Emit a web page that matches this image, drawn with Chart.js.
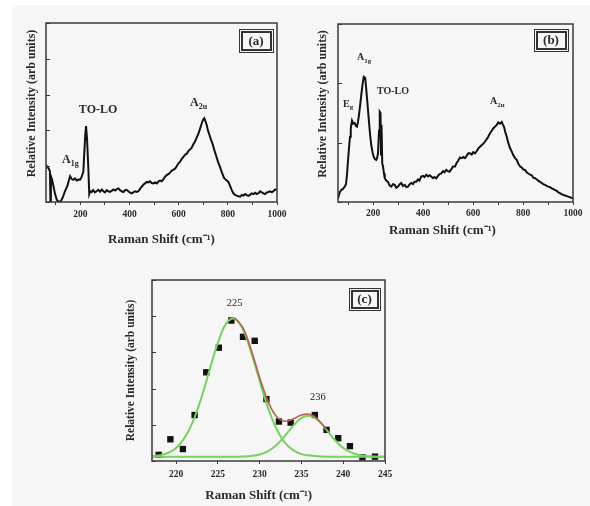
<!DOCTYPE html>
<html>
<head>
<meta charset="utf-8">
<script src="https://cdn.jsdelivr.net/npm/chart.js@4.4.1/dist/chart.umd.min.js"></script>
<style>
  body { margin: 0; width: 590px; height: 506px; background: #fff; overflow: hidden; position: relative; }
  #bg { position: absolute; left: 12px; top: 5px; right: 0; bottom: 0; background: #f6f6f6; }
  .box { position: absolute; }
</style>
</head>
<body>
<div id="bg"></div>
<div class="box" style="left:0;top:0;width:295px;height:252px"><canvas id="chartA"></canvas></div>
<div class="box" style="left:295px;top:0;width:295px;height:252px"><canvas id="chartB"></canvas></div>
<div class="box" style="left:120px;top:252px;width:290px;height:254px"><canvas id="chartC"></canvas></div>
<script>
// --- panel (a): Raman spectrum ---
const shiftA = [60,66,72,76,78,80,85,90,97,104,112,120,128,137,147,153,158,165,171,178,185,191,198,205,212,216,220,223,227,232,236,240,246,252,259,266,273,280,287,293,300,307,314,320,327,334,341,348,355,361,368,375,382,388,395,402,409,415,422,429,436,442,449,456,463,470,477,483,490,497,504,511,517,524,531,538,544,551,558,565,572,578,585,592,599,605,612,619,626,633,639,646,653,660,666,673,680,687,694,699,704,709,714,719,725,731,738,745,752,760,768,776,784,792,802,809,816,822,829,836,843,850,857,864,870,877,884,890,897,904,911,918,925,931,938,945,951,958,965,972,979,986,992,1000];
const intensityA = [1.03,0.98,0.92,0.86,0.03,0.72,0.62,0.45,0.22,0.06,0.0,0.02,0.12,0.3,0.45,0.6,0.72,0.64,0.62,0.66,0.6,0.63,0.62,0.7,0.85,1.4,1.9,2.12,1.75,1.0,0.22,0.3,0.28,0.33,0.27,0.3,0.34,0.29,0.35,0.3,0.27,0.33,0.3,0.28,0.31,0.35,0.32,0.36,0.38,0.33,0.3,0.28,0.33,0.34,0.3,0.26,0.24,0.27,0.3,0.28,0.3,0.36,0.42,0.48,0.52,0.56,0.55,0.58,0.53,0.52,0.55,0.52,0.57,0.6,0.58,0.64,0.7,0.75,0.78,0.82,0.88,0.9,0.93,1.0,1.08,1.12,1.2,1.26,1.32,1.35,1.42,1.47,1.52,1.62,1.68,1.8,1.9,2.05,2.2,2.3,2.34,2.25,2.15,2.0,1.88,1.75,1.62,1.45,1.3,1.12,0.98,0.82,0.68,0.62,0.56,0.45,0.33,0.25,0.2,0.18,0.16,0.15,0.2,0.18,0.22,0.19,0.17,0.2,0.24,0.22,0.26,0.22,0.25,0.3,0.27,0.24,0.22,0.26,0.28,0.3,0.27,0.31,0.35,0.34];

// --- panel (b): Raman spectrum ---
const shiftB = [60,66,72,80,87,92,96,100,104,108,111,116,121,127,132,136,140,144,149,153,158,163,169,173,176,180,184,188,193,198,203,208,213,217,220,224,227,230,232,234,237,240,244,247,253,260,266,273,280,287,293,300,307,313,320,327,333,340,347,353,360,366,373,380,386,393,400,406,413,420,426,433,440,446,453,460,466,473,480,486,493,500,506,513,520,528,535,541,548,555,561,568,575,581,588,595,601,608,615,621,628,635,641,648,655,661,668,675,681,688,695,701,708,715,720,724,729,735,741,748,755,761,768,775,781,788,795,801,808,815,821,828,835,841,848,855,861,868,875,881,888,895,901,908,915,921,928,935,941,948,955,961,968,975,981,988,994,1000];
const intensityB = [0.06,0.15,0.2,0.22,0.26,0.3,0.46,0.7,0.91,1.1,1.24,1.37,1.32,1.33,1.28,1.27,1.35,1.47,1.65,1.8,1.98,2.11,2.09,1.9,1.75,1.55,1.35,1.15,0.96,0.84,0.76,0.72,0.71,0.75,0.82,1.2,1.52,1.5,0.8,1.3,0.65,0.6,0.48,0.4,0.36,0.34,0.28,0.26,0.3,0.29,0.24,0.26,0.3,0.32,0.27,0.29,0.25,0.26,0.3,0.32,0.3,0.34,0.34,0.38,0.36,0.43,0.44,0.42,0.46,0.43,0.45,0.43,0.4,0.42,0.4,0.44,0.47,0.48,0.52,0.5,0.54,0.52,0.51,0.55,0.6,0.6,0.66,0.7,0.75,0.74,0.76,0.74,0.78,0.82,0.82,0.8,0.84,0.82,0.86,0.9,0.93,0.96,0.98,1.02,1.06,1.1,1.16,1.2,1.24,1.27,1.3,1.34,1.32,1.35,1.3,1.27,1.18,1.1,1.0,0.91,0.85,0.79,0.74,0.71,0.65,0.6,0.58,0.55,0.54,0.5,0.48,0.46,0.45,0.41,0.4,0.38,0.36,0.34,0.32,0.3,0.29,0.27,0.26,0.25,0.23,0.22,0.2,0.19,0.16,0.15,0.13,0.12,0.11,0.1,0.09,0.08,0.07,0.06];

// --- panel (c): TO-LO band, measured points and fitted peaks ---
const shiftC = [217.9,219.3,220.8,222.2,223.6,225.1,226.6,228.0,229.4,230.8,232.3,233.7,236.6,238.0,239.4,240.8,242.3,243.8];
const intensityC = [0.17,0.60,0.33,1.27,2.45,3.13,3.88,3.43,3.32,1.71,1.09,1.06,1.27,0.86,0.63,0.41,0.10,0.12];
const fitShift = [217,218,219,220,221,222,223,224,225,226,227,228,229,230,231,232,233,234,235,236,237,238,239,240,241,242,243,244,245];
const peak225 = [0.13,0.16,0.22,0.36,0.64,1.09,1.74,2.52,3.27,3.80,3.93,3.63,2.98,2.20,1.46,0.89,0.51,0.30,0.19,0.15,0.13,0.12,0.12,0.12,0.12,0.12,0.12,0.12,0.12];
const peak236 = [0.12,0.12,0.12,0.12,0.12,0.12,0.12,0.12,0.12,0.12,0.12,0.125,0.14,0.18,0.27,0.44,0.69,0.97,1.19,1.25,1.12,0.86,0.58,0.36,0.23,0.16,0.13,0.12,0.12];
const sumShift = [227,228,229,230,231,232,233,234,235,236,237,238];
const peakSum = [3.95,3.68,3.05,2.30,1.64,1.23,1.10,1.16,1.27,1.29,1.14,0.87];

const xTicksAB = [100,200,300,400,500,600,700,800,900,1000];
const xTicksC = [220,225,230,235,240,245];

const SERIF = "'Liberation Serif', 'Times New Roman', serif";
const INK = "#2a2a2a";
const EN = "\u2002";

function pts(xs, ys) {
  return xs.map((x, i) => ({ x: x, y: ys[i] }));
}

// frame, inward y ticks, peak labels and the (a)/(b)/(c) tag
const framePlugin = {
  id: "frame",
  afterDatasetsDraw(chart, args, opts) {
    const { ctx, chartArea: a, scales } = chart;
    ctx.save();
    ctx.strokeStyle = "#3a3a3a";
    ctx.lineWidth = 1.5;
    ctx.strokeRect(a.left, a.top, a.right - a.left, a.bottom - a.top);
    ctx.lineWidth = 1;
    scales.y.ticks.forEach((t) => {
      const py = Math.round(scales.y.getPixelForValue(t.value)) + 0.5;
      ctx.beginPath();
      ctx.moveTo(a.left, py);
      ctx.lineTo(a.left + 4, py);
      ctx.stroke();
    });

    ctx.fillStyle = INK;
    ctx.textBaseline = "middle";
    (opts.notes || []).forEach((n) => {
      const px = scales.x.getPixelForValue(n.x);
      const py = scales.y.getPixelForValue(n.y);
      const weight = n.bold ? "bold " : "";
      ctx.font = weight + n.size + "px " + SERIF;
      ctx.textAlign = n.align || "left";
      ctx.fillText(n.text, px, py);
      if (n.sub) {
        const w = ctx.measureText(n.text).width;
        ctx.font = weight + Math.round(n.size * 0.7) + "px " + SERIF;
        ctx.textAlign = "left";
        ctx.fillText(n.sub, px + w, py + n.size * 0.35);
      }
    });

    // panel tag box
    const tag = opts.tag;
    if (tag) {
      const bx = a.right - tag.right - tag.w;
      const by = a.top + tag.top;
      ctx.strokeStyle = "#333";
      ctx.lineWidth = 1;
      ctx.strokeRect(bx + 0.5, by + 0.5, tag.w, tag.h);
      ctx.lineWidth = 2;
      ctx.strokeRect(bx + 3, by + 3, tag.w - 5, tag.h - 5);
      ctx.font = "bold 13px " + SERIF;
      ctx.textAlign = "center";
      ctx.fillText(tag.text, bx + tag.w / 2, by + tag.h / 2 + 1);
    }
    ctx.restore();
  }
};

// shift: en spaces after the title, to move it left like the original
function xAxis(min, max, tickList, every, height, titlePad, tickPad, shift) {
  return {
    type: "linear",
    min: min,
    max: max,
    afterBuildTicks: (s) => { s.ticks = tickList.map((v) => ({ value: v })); },
    afterFit: (s) => { s.height = height; },
    ticks: {
      autoSkip: false,
      maxRotation: 0,
      padding: tickPad,
      color: INK,
      font: { family: SERIF, size: 9.5, weight: "bold" },
      callback: (v) => (v % every === 0 ? String(v) : "")
    },
    grid: { drawOnChartArea: false, drawTicks: true, tickLength: 3, color: "#3a3a3a" },
    border: { display: false },
    title: {
      display: true,
      text: "Raman Shift (cm⁻¹)" + EN.repeat(shift),
      color: INK,
      font: { family: SERIF, size: 13, weight: "bold" },
      padding: { top: 0, bottom: titlePad }
    }
  };
}

// lead: en spaces before the title, to move it up like the original
function yAxis(max, width, titlePad, titleSize, lead) {
  return {
    type: "linear",
    min: 0,
    max: max,
    afterFit: (s) => { s.width = width; },
    ticks: { stepSize: 1, display: false },
    grid: { display: false },
    border: { display: false },
    title: {
      display: true,
      text: EN.repeat(lead) + "Relative Intensity (arb units)",
      color: INK,
      font: { family: SERIF, size: titleSize, weight: "bold" },
      padding: { top: titlePad, bottom: 0 }
    }
  };
}

function spectrumLine(xs, ys) {
  return {
    data: pts(xs, ys),
    showLine: true,
    borderColor: "#111",
    borderWidth: 2,
    pointRadius: 0,
    tension: 0
  };
}

const baseOptions = {
  responsive: true,
  maintainAspectRatio: false,
  animation: false,
  events: []
};

new Chart(document.getElementById("chartA"), {
  type: "scatter",
  data: { datasets: [spectrumLine(shiftA, intensityA)] },
  options: Object.assign({}, baseOptions, {
    layout: { padding: { left: 0, top: 23, right: 18, bottom: 0 } },
    scales: {
      x: xAxis(60, 1000, xTicksAB, 200, 50, 5, 4, 0),
      y: yAxis(5, 46, 25, 12, 3)
    },
    plugins: {
      legend: { display: false },
      tooltip: { enabled: false },
      frame: {
        notes: [
          { x: 125, y: 1.17, text: "A", sub: "1g", size: 12, bold: true },
          { x: 272, y: 2.57, text: "TO-LO", size: 12, bold: true, align: "center" },
          { x: 646, y: 2.77, text: "A", sub: "2u", size: 12, bold: true }
        ],
        tag: { text: "(a)", w: 34, h: 23, right: 4, top: 6 }
      }
    }
  }),
  plugins: [framePlugin]
});

new Chart(document.getElementById("chartB"), {
  type: "scatter",
  data: { datasets: [spectrumLine(shiftB, intensityB)] },
  options: Object.assign({}, baseOptions, {
    layout: { padding: { left: 0, top: 24, right: 17, bottom: 0 } },
    scales: {
      x: xAxis(60, 1000, xTicksAB, 200, 50, 14, 3, 4),
      y: yAxis(3, 43, 21, 12, 3)
    },
    plugins: {
      legend: { display: false },
      tooltip: { enabled: false },
      frame: {
        notes: [
          { x: 80, y: 1.65, text: "E", sub: "g", size: 10, bold: true },
          { x: 136, y: 2.43, text: "A", sub: "1g", size: 10, bold: true },
          { x: 280, y: 1.87, text: "TO-LO", size: 10, bold: true, align: "center" },
          { x: 668, y: 1.69, text: "A", sub: "2u", size: 10, bold: true }
        ],
        tag: { text: "(b)", w: 34, h: 22, right: 5, top: 5 }
      }
    }
  }),
  plugins: [framePlugin]
});

new Chart(document.getElementById("chartC"), {
  type: "scatter",
  data: {
    datasets: [
      {
        data: pts(sumShift, peakSum),
        showLine: true,
        borderColor: "#b8604a",
        borderWidth: 1.6,
        pointRadius: 0,
        tension: 0.4
      },
      {
        data: pts(fitShift, peak225),
        showLine: true,
        borderColor: "#74d35c",
        borderWidth: 2,
        pointRadius: 0,
        tension: 0.4
      },
      {
        data: pts(fitShift, peak236),
        showLine: true,
        borderColor: "#74d35c",
        borderWidth: 2,
        pointRadius: 0,
        tension: 0.4
      },
      {
        data: pts(shiftC, intensityC),
        showLine: false,
        pointStyle: "rect",
        pointRadius: 4.5,
        backgroundColor: "#111",
        borderColor: "#111",
        borderWidth: 0
      }
    ]
  },
  options: Object.assign({}, baseOptions, {
    layout: { padding: { left: 0, top: 28, right: 25, bottom: 0 } },
    scales: {
      x: xAxis(217.1, 245, xTicksC, 5, 45, 3, 5, 3),
      y: yAxis(5, 32, 4, 11.5, 0)
    },
    plugins: {
      legend: { display: false },
      tooltip: { enabled: false },
      frame: {
        notes: [
          { x: 227.0, y: 4.36, text: "225", size: 10.5, align: "center" },
          { x: 236.96, y: 1.77, text: "236", size: 10.5, align: "center" }
        ],
        tag: { text: "(c)", w: 31, h: 22, right: 5, top: 8 }
      }
    }
  }),
  plugins: [framePlugin]
});
</script>
</body>
</html>
